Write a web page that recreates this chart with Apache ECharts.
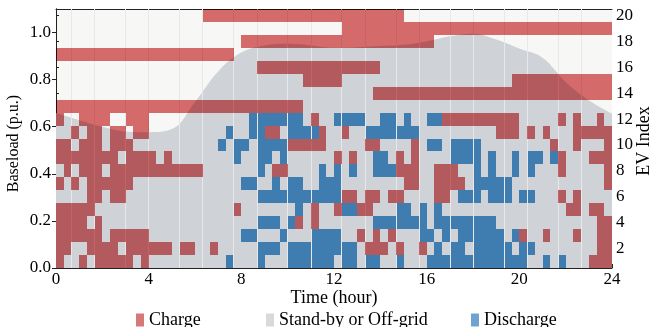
<!DOCTYPE html>
<html>
<head>
<meta charset="utf-8">
<script src="https://cdn.jsdelivr.net/npm/echarts@6/dist/echarts.min.js"></script>
<style>
html, body { margin: 0; padding: 0; background: #fff; }
#chart { width: 652px; height: 327px; }
</style>
</head>
<body>
<div id="chart"></div>
<script>
// axis ticks
var hourTicks = [0, 4, 8, 12, 16, 20, 24];
var baseTicks = [0, 0.2, 0.4, 0.6, 0.8, 1.0];
var evTicks = [2, 4, 6, 8, 10, 12, 14, 16, 18, 20];

// baseload (p.u.), read at every hour 0..24
var baseHours = [0, 1, 2, 3, 4, 5, 6, 7, 8, 9, 10, 11, 12, 13, 14, 15, 16, 17, 18, 19, 20, 21, 22, 23, 24];
var baseload = [0.658, 0.628, 0.600, 0.580, 0.577, 0.590, 0.705, 0.835, 0.915, 0.945, 0.952, 0.945, 0.935,
                0.938, 0.943, 0.948, 0.962, 0.984, 0.995, 0.970, 0.932, 0.893, 0.790, 0.712, 0.655];

// EV states per 20-min slot (72 per day), EV1 first
// c = charge, s = stand-by / off-grid, d = discharge
var evStates = [
    'csscsccccc scssssssss ssdsssdsss ddddddsdds ddssdsssdd dddddddddd dssdsdsssc cc',
    'ccssccccsc cccccsccss csssssddds ddddddddds cccscsscsd sddsddddds ddssssssss cc',
    'ccccccsccc ccssssssss ssssddsssd sssddddssc scscsssdds dsddddddsd csscssscss cc',
    'ccccscssss ssssssssss ssssssddds dcscssssss sdddddddsd dddddddsss ssssssssss cc',
    'cccccsssss ssssssssss ssscssssss sdscsscddc csssddsdsd ssssssssss ssssssccsc cs',
    'ssssccsccs ssssssssss ssssssdddd dddddddccs ccsccssssc csdddsddds ddssscscss ss',
    'cscscccccc ssssssssss ssssddssds ddssdddsss sssssccssc cccsddddds ssssssssss sc',
    'scscccsccc cccccccccs ssssssdscc ssssdsdsds sdddcccssc ccssdsdssd sdssscssss sc',
    'ccccccccsc cccscsssss sssdssddsd sssssscscs sddscscsss sddddsdssd sddsdcsssc cc',
    'ccscccsccc ssssssssss sdsddsdddd cccccsssss ccsssscsdd sddddsssss sssscsscss sc',
    'sscsccsccs ccssssssss ssdssddccs ddddcsscss dddddddsss sssssssccc scscsssccc cc',
    'cssccccssc ccssssssss sssssddddd ddscssdddd ssddsdssdd cccccccccc ssssscscss cs',
    'cccccccccc cccccccccc cccccccccc ccssssssss ssssssssss ssssssssss ssssssssss ss',
    'ssssssssss ssssssssss ssssssssss ssssssssss sccccccccc cccccccccc cccccccccc cc',
    'ssssssssss ssssssssss ssssssssss sscccccsss ssssssssss sssssssssc cccccccccc cc',
    'ssssssssss ssssssssss sssssscccc cccccccccc ccssssssss ssssssssss ssssssssss ss',
    'cccccccccc cccccccccc cccsssssss ssssssssss ssssssssss ssssssssss ssssssssss ss',
    'ssssssssss ssssssssss sssscccccc cccccccccc cccccccccs ssssssssss ssssssssss ss',
    'ssssssssss ssssssssss ssssssssss sssssssccc cccccccccc cccccccccc cccccccccc cc',
    'ssssssssss sssssssssc cccccccccc cccccccccc cccccsssss ssssssssss ssssssssss ss'
];

// slot edges where the original shows faint seams
var seamSlots = [2, 5, 9, 12, 16, 19, 23, 26, 30, 33, 37, 40, 44, 47, 51, 54, 58, 61, 65, 68];

var slotsPerHour = 3;
var serif = '"Liberation Serif", "Times New Roman", serif';

function cells(code) {
    var out = [];
    for (var k = 0; k < evStates.length; k++) {
        var row = evStates[k].replace(/ /g, '');
        for (var c = 0; c < row.length; c++) {
            if (row.charAt(c) === code) {
                out.push([c / slotsPerHour, (c + 1) / slotsPerHour, k + 1]);
            }
        }
    }
    return out;
}

function cellItem(fill) {
    return function (params, api) {
        var a = api.coord([api.value(0), api.value(2) + 0.5]);
        var b = api.coord([api.value(1), api.value(2) - 0.5]);
        var x0 = Math.round(a[0]), x1 = Math.round(b[0]);
        var y0 = Math.round(a[1]), y1 = Math.round(b[1]);
        return {
            type: 'rect',
            shape: { x: x0, y: y0, width: x1 - x0, height: y1 - y0 },
            style: { fill: fill }
        };
    };
}

var chart = echarts.init(document.getElementById('chart'), null, { renderer: 'canvas' });

var legendBase = {
    icon: 'rect',
    itemWidth: 8,
    itemHeight: 13,
    padding: 0,
    top: 311,
    selectedMode: false,
    textStyle: { fontFamily: serif, fontSize: 18, color: '#000' }
};

var option = {
    animation: false,
    grid: {
        left: 56, right: 40, top: 9, bottom: 59,
        containLabel: false, outerBoundsMode: 'none',
        show: true, backgroundColor: '#f7f7f5', borderWidth: 0
    },
    legend: [
        Object.assign({}, legendBase, { left: 136, data: ['Charge'] }),
        Object.assign({}, legendBase, { left: 266, data: ['Stand-by or Off-grid'] }),
        Object.assign({}, legendBase, { left: 471, data: ['Discharge'] })
    ],
    xAxis: [{
        type: 'value', min: 0, max: 24, interval: 4,
        name: 'Time (hour)', nameLocation: 'middle', nameGap: 21, nameMoveOverlap: false,
        nameTextStyle: { fontFamily: serif, fontSize: 18, color: '#000' },
        axisLine: { show: true, lineStyle: { color: '#222', width: 1 } },
        axisTick: { show: true, inside: true, length: 4, lineStyle: { color: '#222' } },
        axisLabel: { fontFamily: serif, fontSize: 17, color: '#000', margin: 3,
                     customValues: hourTicks },
        splitLine: { show: false }
    }, {
        type: 'value', min: 0, max: 24, position: 'top',
        axisLine: { show: true, onZero: false, lineStyle: { color: '#222', width: 1 } },
        axisTick: { show: false }, axisLabel: { show: false }, splitLine: { show: false }
    }],
    yAxis: [{
        type: 'value', min: 0, max: 1.1, position: 'left',
        name: 'Baseload (p.u.)', nameLocation: 'middle', nameGap: 34, nameRotate: 90,
        nameMoveOverlap: false,
        nameTextStyle: { fontFamily: serif, fontSize: 16, color: '#000', padding: [0, 10, 0, 0] },
        axisLine: { show: true, lineStyle: { color: '#222', width: 1 } },
        axisTick: { show: true, inside: false, length: 4, customValues: baseTicks,
                    lineStyle: { color: '#222' } },
        axisLabel: { fontFamily: serif, fontSize: 17, color: '#000', margin: 5,
                     customValues: baseTicks,
                     formatter: function (v) { return v.toFixed(1); } },
        splitLine: { show: false }
    }, {
        type: 'value', min: 0.5, max: 20.5, position: 'right',
        name: 'EV Index', nameLocation: 'middle', nameGap: 23, nameRotate: 90,
        nameMoveOverlap: false,
        nameTextStyle: { fontFamily: serif, fontSize: 18, color: '#000', padding: [0, 5, 0, 0] },
        axisLine: { show: true, lineStyle: { color: '#222', width: 1 } },
        axisTick: { show: true, inside: false, length: 3, customValues: evTicks,
                    lineStyle: { color: '#222' } },
        axisLabel: { fontFamily: serif, fontSize: 17, color: '#000', margin: 4,
                     customValues: evTicks },
        splitLine: { show: false }
    }],
    series: [{
        name: 'baseload',
        type: 'line',
        xAxisIndex: 0, yAxisIndex: 0,
        z: 1,
        smooth: 0.4,
        symbol: 'none',
        silent: true,
        lineStyle: { width: 0 },
        areaStyle: { color: '#cfd3d7', opacity: 1 },
        data: baseHours.map(function (h, i) { return [h, baseload[i]]; }),
        markLine: {
            silent: true,
            symbol: ['none', 'none'],
            label: { show: false },
            lineStyle: { color: '#e6e8e9', width: 1, type: 'solid' },
            data: seamSlots.map(function (s) { return { xAxis: s / slotsPerHour }; })
        }
    }, {
        // charge cells sit on their own layer, multiplied over the baseload area
        name: 'Charge',
        type: 'custom',
        xAxisIndex: 0, yAxisIndex: 1, zlevel: 1, z: 3,
        itemStyle: { color: '#d77878' },
        encode: { x: [0, 1], y: 2 },
        renderItem: cellItem('#dc6d6e'),
        data: cells('c')
    }, {
        name: 'Stand-by or Off-grid',
        type: 'custom',
        xAxisIndex: 0, yAxisIndex: 1, z: 2,
        itemStyle: { color: '#d9d9d9' },
        encode: { x: [0, 1], y: 2 },
        renderItem: cellItem('rgba(0,0,0,0)'),
        data: cells('s')
    }, {
        name: 'Discharge',
        type: 'custom',
        xAxisIndex: 0, yAxisIndex: 1, z: 3,
        itemStyle: { color: '#6fa3cf' },
        encode: { x: [0, 1], y: 2 },
        renderItem: cellItem('#3f7db1'),
        data: cells('d')
    }]
};

function blendChargeLayer() {
    var layer = document.querySelector('#chart [data-zr-dom-id="zr_1"]');
    if (layer) layer.style.mixBlendMode = 'multiply';
}
chart.on('finished', blendChargeLayer);
chart.setOption(option);
blendChargeLayer();
setTimeout(blendChargeLayer, 0);
</script>
</body>
</html>
